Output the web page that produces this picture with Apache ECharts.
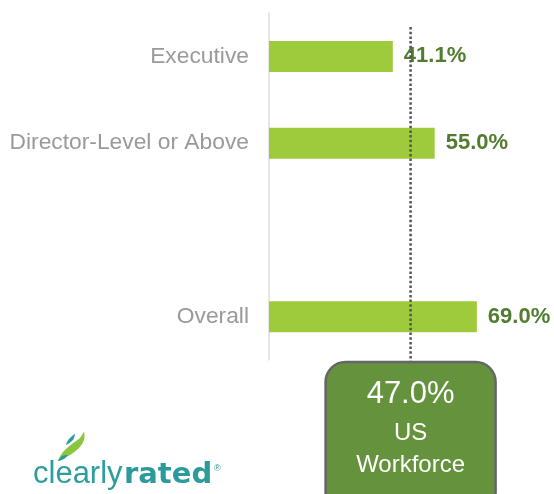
<!DOCTYPE html>
<html>
<head>
<meta charset="utf-8">
<script src="https://cdn.jsdelivr.net/npm/echarts@6/dist/echarts.min.js"></script>
<style>html,body{margin:0;padding:0;background:#fff}#c{width:554px;height:494px}</style>
</head>
<body>
<div id="c"></div>
<script>
const categories = ['Executive', 'Director-Level or Above', '', 'Overall'];
const values = [41.1, 55.0, '-', 69.0];
const benchmark = 47.0;
const benchmarkLines = ['US', 'Workforce'];

const chart = echarts.init(document.getElementById('c'), null, {renderer: 'canvas'});
const FONT = '"Liberation Sans", Arial, sans-serif';
chart.setOption({
  animation: false,
  grid: {left: 269, right: 44, top: 13, bottom: 134},
  xAxis: {type: 'value', min: 0, max: 80, show: false},
  yAxis: {
    type: 'category', inverse: true, data: categories,
    axisLine: {show: true, lineStyle: {color: '#dedede', width: 1.5}},
    axisTick: {show: false},
    axisLabel: {fontSize: 22.8, color: '#9a9a9a', margin: 20, fontFamily: FONT}
  },
  series: [{
    type: 'bar', data: values, barWidth: 31,
    itemStyle: {color: '#9ecb3c'},
    label: {
      show: true, position: 'right', distance: 11,
      formatter: p => Number(p.value).toFixed(1) + '%',
      fontSize: 22, fontWeight: 'bold', color: '#527c30', fontFamily: FONT
    }
  }]
});

const px = chart.convertToPixel({xAxisIndex: 0}, benchmark);
chart.setOption({
  graphic: [
    {type: 'line', z: 5, shape: {x1: px, y1: 27, x2: px, y2: 362},
     style: {stroke: '#555', lineWidth: 2.5, lineDash: [2.5, 2.2]}},
    {type: 'rect', z: 6, shape: {x: px - 85, y: 362, width: 170, height: 150, r: 20},
     style: {fill: '#64923d', stroke: '#666', lineWidth: 2.5}},
    {type: 'text', z: 7, x: px, y: 410, style: {text: benchmark.toFixed(1) + '%', fill: '#fff', font: '31px ' + FONT, align: 'center', verticalAlign: 'bottom'}},
    {type: 'text', z: 7, x: px, y: 445, style: {text: benchmarkLines[0], fill: '#fff', font: '24px ' + FONT, align: 'center', verticalAlign: 'bottom'}},
    {type: 'text', z: 7, x: px, y: 477, style: {text: benchmarkLines[1], fill: '#fff', font: '24px ' + FONT, align: 'center', verticalAlign: 'bottom'}},
    // logo
    {type: 'polygon', z: 7, shape: {points: [[58, 461], [63, 452], [72, 444], [80, 438], [84, 432], [84, 440], [79, 448], [70, 455], [62, 459]], smooth: 0.3}, style: {fill: '#8cc63f'}},
    {type: 'polygon', z: 8, shape: {points: [[66, 445], [69, 439], [75, 434], [73, 440]], smooth: 0.2}, style: {fill: '#2a9c9c'}},
    {type: 'polygon', z: 8, shape: {points: [[58, 461], [62, 456], [68, 455], [64, 459]], smooth: 0.2}, style: {fill: '#2a9c9c'}},
    {type: 'text', z: 7, x: 33, y: 490, style: {text: 'clearly', fill: '#2e9d9e', font: '31px ' + FONT, verticalAlign: 'bottom'}},
    {type: 'text', z: 7, x: 124, y: 490, style: {text: 'rated', fill: '#2a9a9b', font: 'bold 29px "DejaVu Sans", sans-serif', verticalAlign: 'bottom'}},
    {type: 'text', z: 7, x: 214, y: 464, style: {text: '®', fill: '#2a9a9b', font: '9px ' + FONT}}
  ]
});
</script>
</body>
</html>
